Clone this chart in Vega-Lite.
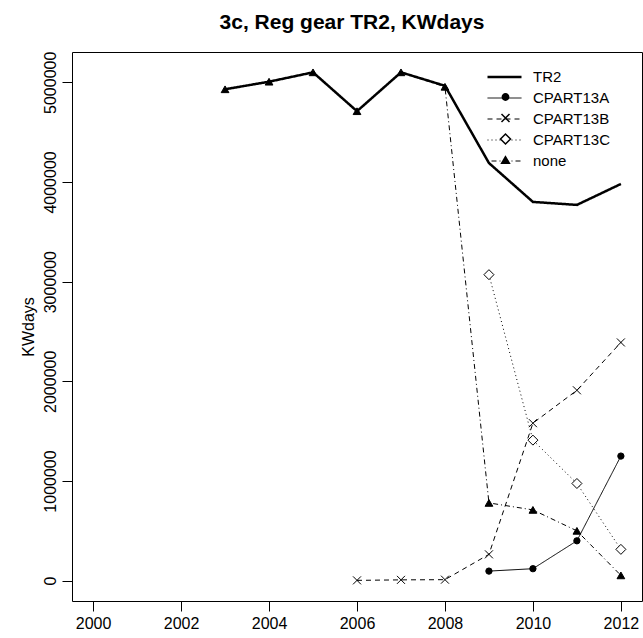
{
  "$schema": "https://vega.github.io/schema/vega-lite/v6.json",
  "width": 570,
  "height": 549,
  "autosize": "none",
  "padding": {"left": 72, "top": 52, "right": 1, "bottom": 37},
  "background": "white",
  "config": {
    "font": "Liberation Sans",
    "view": {"stroke": "black", "strokeWidth": 1},
    "axis": {"labelColor": "black", "titleColor": "black", "tickColor": "black", "domain": false, "grid": false, "labelFont": "Liberation Sans", "titleFont": "Liberation Sans", "titleFontWeight": "normal"}
  },
  "title": {"text": "3c, Reg gear TR2, KWdays", "fontSize": 21, "fontWeight": "bold", "color": "black", "offset": 18, "anchor": "middle", "dx": -5, "font": "Liberation Sans"},
  "data": {"values": [
    {"year": 2003, "value": 4930000, "series": "TR2"},
    {"year": 2004, "value": 5006000, "series": "TR2"},
    {"year": 2005, "value": 5100000, "series": "TR2"},
    {"year": 2006, "value": 4710000, "series": "TR2"},
    {"year": 2007, "value": 5100000, "series": "TR2"},
    {"year": 2008, "value": 4965000, "series": "TR2"},
    {"year": 2009, "value": 4190000, "series": "TR2"},
    {"year": 2010, "value": 3800000, "series": "TR2"},
    {"year": 2011, "value": 3770000, "series": "TR2"},
    {"year": 2012, "value": 3980000, "series": "TR2"},
    {"year": 2009, "value": 96000, "series": "CPART13A"},
    {"year": 2010, "value": 120000, "series": "CPART13A"},
    {"year": 2011, "value": 400000, "series": "CPART13A"},
    {"year": 2012, "value": 1250000, "series": "CPART13A"},
    {"year": 2006, "value": 3000, "series": "CPART13B"},
    {"year": 2007, "value": 8000, "series": "CPART13B"},
    {"year": 2008, "value": 10000, "series": "CPART13B"},
    {"year": 2009, "value": 264000, "series": "CPART13B"},
    {"year": 2010, "value": 1580000, "series": "CPART13B"},
    {"year": 2011, "value": 1910000, "series": "CPART13B"},
    {"year": 2012, "value": 2390000, "series": "CPART13B"},
    {"year": 2009, "value": 3070000, "series": "CPART13C"},
    {"year": 2010, "value": 1410000, "series": "CPART13C"},
    {"year": 2011, "value": 975000, "series": "CPART13C"},
    {"year": 2012, "value": 314000, "series": "CPART13C"},
    {"year": 2003, "value": 4930000, "series": "none"},
    {"year": 2004, "value": 5006000, "series": "none"},
    {"year": 2005, "value": 5100000, "series": "none"},
    {"year": 2006, "value": 4710000, "series": "none"},
    {"year": 2007, "value": 5100000, "series": "none"},
    {"year": 2008, "value": 4955000, "series": "none"},
    {"year": 2009, "value": 780000, "series": "none"},
    {"year": 2010, "value": 710000, "series": "none"},
    {"year": 2011, "value": 500000, "series": "none"},
    {"year": 2012, "value": 53000, "series": "none"}
  ]},
  "encoding": {
    "x": {"field": "year", "type": "quantitative",
      "scale": {"domain": [1999.52, 2012.48], "nice": false, "zero": false},
      "axis": {"title": null, "values": [2000, 2002, 2004, 2006, 2008, 2010, 2012], "format": "d", "tickSize": 10, "labelFontSize": 16, "labelPadding": 4}},
    "y": {"field": "value", "type": "quantitative",
      "scale": {"domain": [-204000, 5304000], "nice": false, "zero": false},
      "axis": {"title": "KWdays", "values": [0, 1000000, 2000000, 3000000, 4000000, 5000000], "format": "d", "tickSize": 10, "labelFontSize": 16, "labelAngle": -90, "labelPadding": 4, "titleFontSize": 16, "titlePadding": 6}}
  },
  "layer": [
    {
      "mark": {"type": "line", "color": "black"},
      "encoding": {
        "detail": {"field": "series"},
        "strokeDash": {"field": "series", "type": "nominal",
          "scale": {"type": "ordinal", "domain": ["TR2", "CPART13A", "CPART13B", "CPART13C", "none"], "range": [[1, 0], [1, 0], [5, 4], [1, 3], [1, 3, 5, 3]]},
          "legend": {"title": null, "orient": "none", "legendX": 414, "legendY": 18, "symbolType": "stroke", "symbolSize": 1156, "symbolStrokeColor": "black", "clipHeight": 14, "rowPadding": 6, "labelFontSize": 15, "labelColor": "black", "labelOffset": 10, "padding": 0}},
        "strokeWidth": {"field": "series", "type": "nominal",
          "scale": {"type": "ordinal", "domain": ["TR2", "CPART13A", "CPART13B", "CPART13C", "none"], "range": [2.5, 1, 1, 1, 1]},
          "legend": {"title": null, "orient": "none", "legendX": 414, "legendY": 18, "symbolType": "stroke", "symbolSize": 1156, "symbolStrokeColor": "black", "clipHeight": 14, "rowPadding": 6, "labelFontSize": 15, "labelColor": "black", "labelOffset": 10, "padding": 0}}
      }
    },
    {
      "transform": [{"filter": "datum.series != 'TR2'"}],
      "mark": {"type": "point", "stroke": "black", "strokeWidth": 1, "opacity": 1},
      "encoding": {
        "shape": {"field": "series", "type": "nominal",
          "scale": {"type": "ordinal", "domain": ["CPART13A", "CPART13B", "CPART13C", "none"], "range": ["circle", "M-1,-1L1,1M-1,1L1,-1", "diamond", "triangle-up"]},
          "legend": {"title": null, "orient": "none", "legendX": 426, "legendY": 38, "clipHeight": 14, "rowPadding": 6, "labelFontSize": 15, "labelExpr": "''", "padding": 0,
            "encode": {"symbols": {"stroke": {"value": "black"}, "strokeWidth": {"value": 1}}}}},
        "fill": {"field": "series", "type": "nominal",
          "scale": {"type": "ordinal", "domain": ["CPART13A", "CPART13B", "CPART13C", "none"], "range": ["black", "white", "white", "black"]},
          "legend": {"title": null, "orient": "none", "legendX": 426, "legendY": 38, "clipHeight": 14, "rowPadding": 6, "labelFontSize": 15, "labelExpr": "''", "padding": 0,
            "encode": {"symbols": {"stroke": {"value": "black"}, "strokeWidth": {"value": 1}}}}},
        "size": {"field": "series", "type": "nominal",
          "scale": {"type": "ordinal", "domain": ["CPART13A", "CPART13B", "CPART13C", "none"], "range": [40, 64, 100, 60]},
          "legend": {"title": null, "orient": "none", "legendX": 426, "legendY": 38, "clipHeight": 14, "rowPadding": 6, "labelFontSize": 15, "labelExpr": "''", "padding": 0,
            "encode": {"symbols": {"stroke": {"value": "black"}, "strokeWidth": {"value": 1}}}}}
      }
    }
  ]
}
